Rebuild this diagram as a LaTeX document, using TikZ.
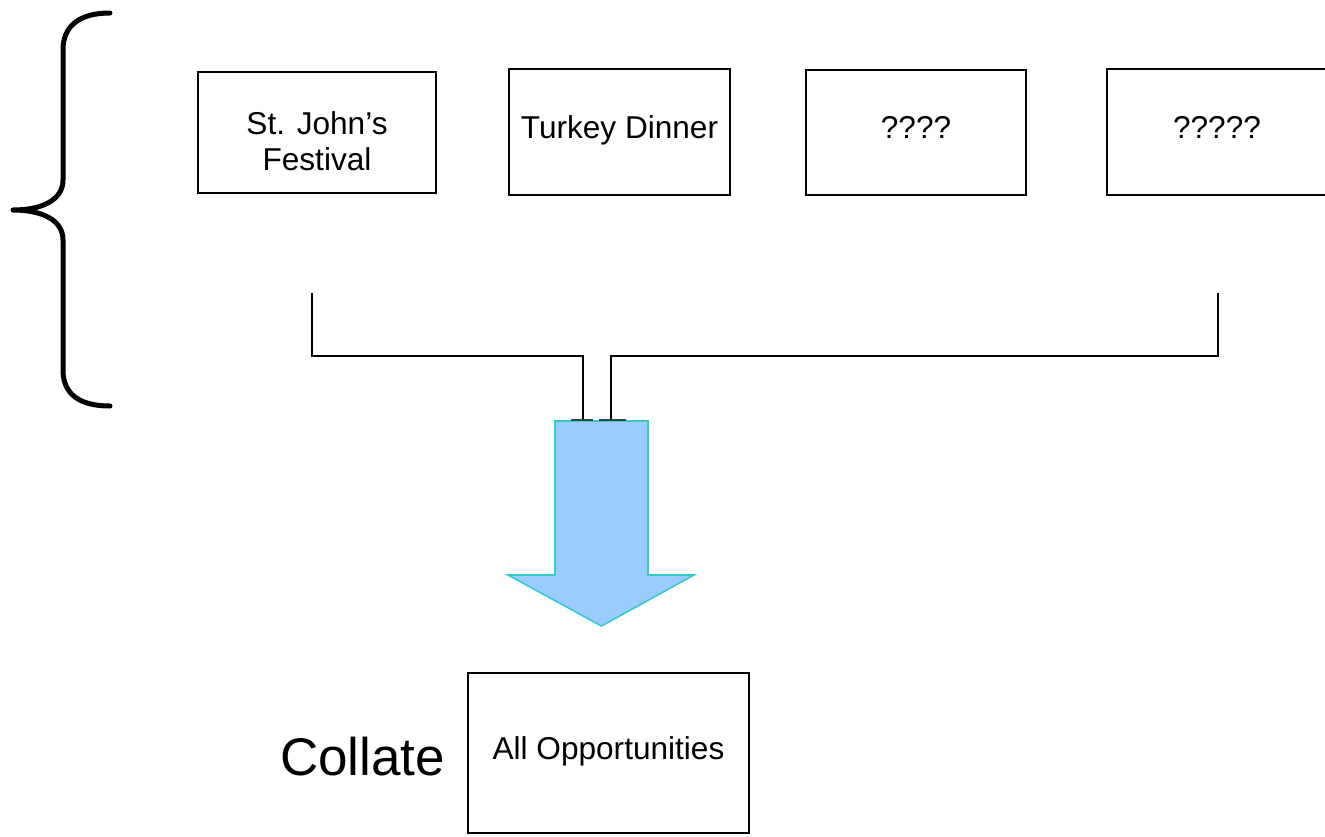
\documentclass[tikz,border=0pt]{standalone}
\usepackage{fontspec}
\setmainfont{Liberation Sans}
\definecolor{arrowfill}{HTML}{99CCFF}
\definecolor{arrowedge}{HTML}{33CCCC}
\begin{document}
\begin{tikzpicture}[x=1pt,y=-1pt,
  box/.style={draw=black, line width=2pt, inner sep=0pt},
  txt/.style={inner sep=0pt, font=\fontsize{31.6}{36}\selectfont, align=center},
  conn/.style={draw=black, line width=1.4pt},
  tick/.style={draw=black!75, line width=1.6pt},
  bracestyle/.style={draw=black, line width=5pt, line cap=round, line join=round}]
\useasboundingbox (0,0) rectangle (1325,836);
\clip (0,0) rectangle (1325,836);

% brace
\draw[bracestyle] (110,13) .. controls (78,13) and (63,27) .. (63,50)
  -- (63,180) .. controls (63,200) and (42,210) .. (13,210)
  .. controls (42,210) and (63,220) .. (63,240)
  -- (63,370) .. controls (63,393) and (78,406) .. (110,406);

% top boxes
\node[box, minimum width=238pt, minimum height=121pt] (b1) at (317,132.5) {};
\node[box, minimum width=221pt, minimum height=126pt] (b2) at (619.5,132) {};
\node[box, minimum width=220pt, minimum height=125pt] (b3) at (916,132.5) {};
\node[box, minimum width=220pt, minimum height=126pt] (b4) at (1217,132) {};

\node[txt] (t1) at (317,141.5) {St. John’s\\Festival};
\node[txt, anchor=base] (t2) at (619.5,138) {Turkey Dinner};
\node[txt, anchor=base] (t3) at (916,138) {????};
\node[txt, anchor=base] (t4) at (1217,138) {?????};

% big arrow
\coordinate (atop) at (601.5,421);
\coordinate (atip) at (601.5,626);
\filldraw[fill=arrowfill, draw=arrowedge, line width=1.6pt, line join=miter]
  (555,421) -- (648,421) -- (648,575) -- (694,575) -- (atip)
  -- (508,575) -- (555,575) -- cycle;

% connectors
\coordinate (l0) at (312,293);
\coordinate (l1) at (312,356);
\coordinate (l2) at (583,356);
\coordinate (l3) at (583,420);
\coordinate (r0) at (1218,293);
\coordinate (r1) at (1218,356);
\coordinate (r2) at (611,356);
\coordinate (r3) at (611,420);
\coordinate (tl1) at (571,420);
\coordinate (tl2) at (593,420);
\coordinate (tr1) at (599,420);
\coordinate (tr2) at (626,420);
\draw[conn] (l0) -- (l1) -- (l2) -- (l3);
\draw[conn] (r0) -- (r1) -- (r2) -- (r3);
\draw[tick] (tl1) -- (tl2);
\draw[tick] (tr1) -- (tr2);

% bottom box
\node[box, line width=1.6pt, minimum width=281pt, minimum height=160pt] (ao) at (608.5,753) {};
\node[txt, anchor=base] (aot) at (608.5,759) {All Opportunities};
\node[inner sep=0pt, font=\fontsize{53}{60}\selectfont, anchor=base] (col) at (362.5,775) {Collate};
\end{tikzpicture}
\end{document}
